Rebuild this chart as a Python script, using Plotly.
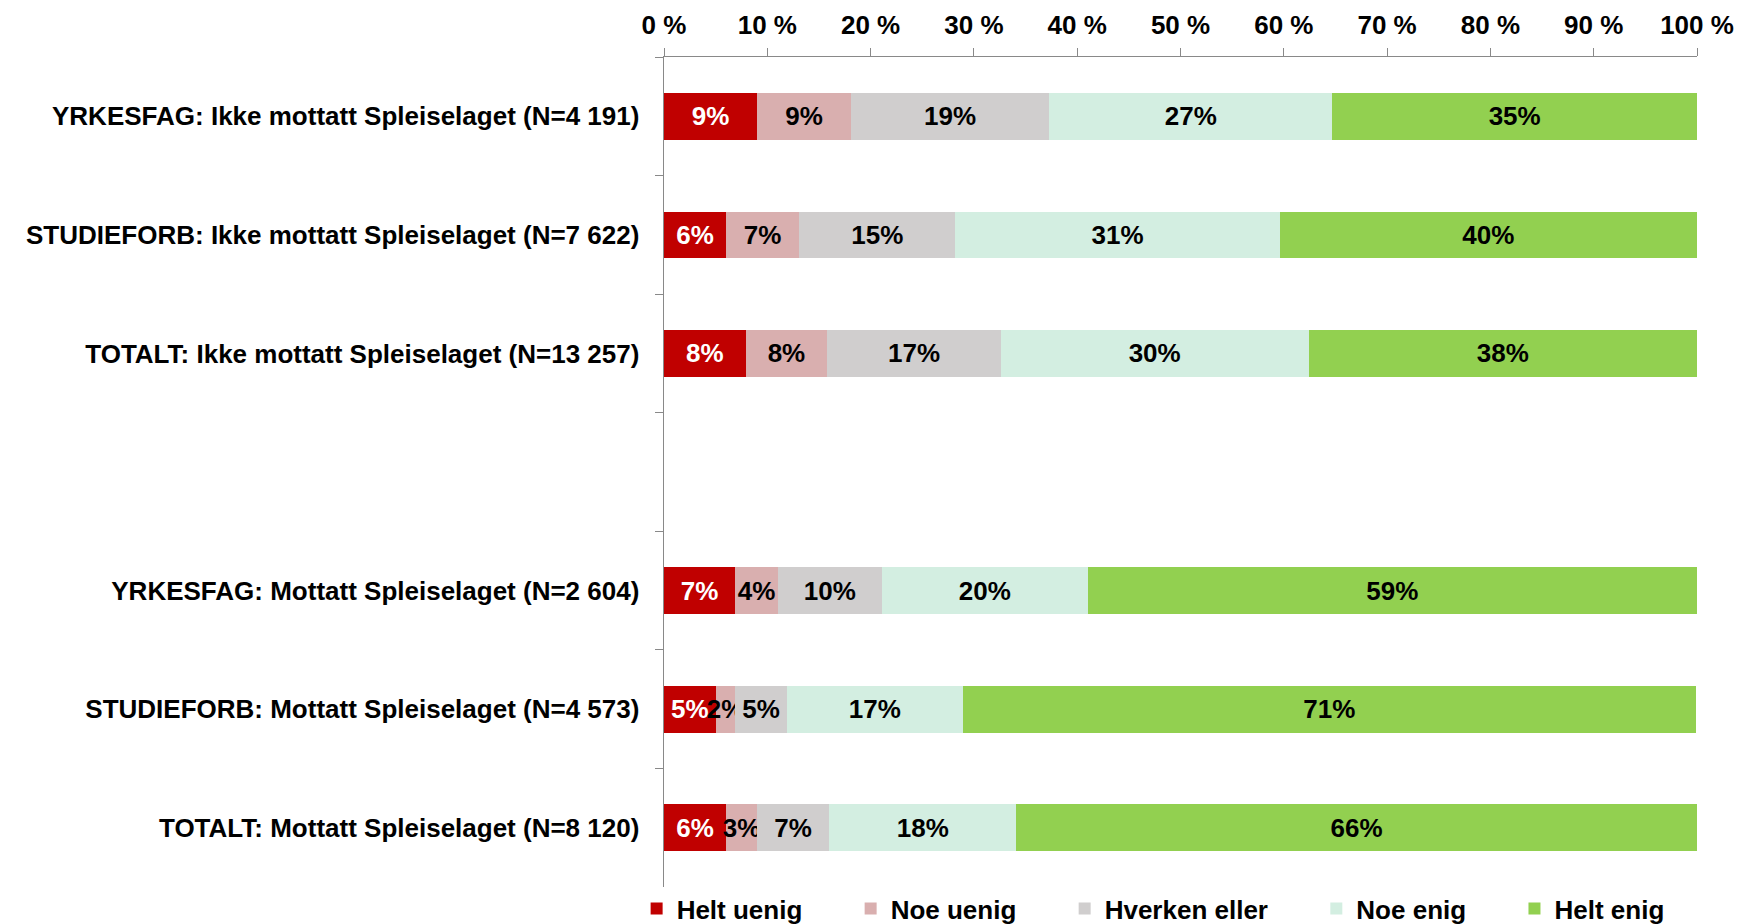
import plotly.graph_objects as go

categories = [
    "YRKESFAG: Ikke mottatt Spleiselaget (N=4 191)",
    "STUDIEFORB: Ikke mottatt Spleiselaget (N=7 622)",
    "TOTALT: Ikke mottatt Spleiselaget (N=13 257)",
    " ",
    "YRKESFAG: Mottatt Spleiselaget (N=2 604)",
    "STUDIEFORB: Mottatt Spleiselaget (N=4 573)",
    "TOTALT: Mottatt Spleiselaget (N=8 120)",
]

series_names = ["Helt uenig", "Noe uenig", "Hverken eller", "Noe enig", "Helt enig"]

helt_uenig = [9.0, 6.0, 7.9, None, 6.9, 5.0, 6.0]
noe_uenig = [9.1, 7.1, 7.9, None, 4.1, 1.9, 3.0]
hverken = [19.2, 15.1, 16.8, None, 10.1, 5.0, 7.0]
noe_enig = [27.4, 31.4, 29.8, None, 19.9, 17.0, 18.1]
helt_enig = [35.3, 40.4, 37.6, None, 59.0, 71.0, 65.9]

series_values = [helt_uenig, noe_uenig, hverken, noe_enig, helt_enig]
colors = ["#C00000", "#D9AFAF", "#D0CECE", "#D3EEE1", "#92D050"]
text_colors = ["white", "black", "black", "black", "black"]

x_ticks = [0, 10, 20, 30, 40, 50, 60, 70, 80, 90, 100]
x_tick_labels = [f"{v} %" for v in x_ticks]

FONT = "Liberation Sans, Arial, sans-serif"
FS = 26

fig = go.Figure()
for i, (name, vals, col, tcol) in enumerate(zip(series_names, series_values, colors, text_colors)):
    pad = "\u00a0" * 6 if i < len(series_names) - 1 else ""
    fig.add_trace(go.Bar(
        y=categories, x=vals, name=name + pad, orientation="h",
        marker=dict(color=col, line=dict(width=0)),
        texttemplate="%{x:.0f}%", textposition="inside",
        insidetextanchor="middle", textangle=0, constraintext="none",
        textfont=dict(family=FONT, size=26, color=tcol, weight="bold"),
        hoverinfo="skip",
    ))

fig.update_layout(
    barmode="stack",
    bargap=0.606,
    width=1739, height=924,
    margin=dict(l=664, r=42, t=57, b=37, autoexpand=False),
    paper_bgcolor="white", plot_bgcolor="white",
    font=dict(family=FONT, size=FS, color="black", weight="bold"),
    showlegend=True,
    legend=dict(orientation="h", traceorder="normal",
                x=-0.0265, xanchor="left", y=-0.026, yanchor="middle",
                font=dict(family=FONT, size=FS, color="black", weight="bold"),
                itemwidth=30, bgcolor="rgba(0,0,0,0)"),
    xaxis=dict(side="top", range=[0, 100], tickvals=x_ticks, ticktext=x_tick_labels,
               automargin=False, ticklabelstandoff=4,
               showgrid=False, zeroline=False, showline=True, linecolor="#898989", linewidth=1,
               ticks="outside", ticklen=8, tickcolor="#898989",
               tickfont=dict(family=FONT, size=FS, color="black", weight="bold")),
    yaxis=dict(categoryorder="array", categoryarray=categories, autorange="reversed",
               automargin=False,
               showgrid=False, showline=True, linecolor="#898989", linewidth=1,
               ticks="outside", ticklen=8, tickcolor="#898989", tickson="boundaries",
               ticksuffix="  ", ticklabelstandoff=4,
               tickfont=dict(family=FONT, size=FS, color="black", weight="bold")),
)

fig.write_html("out.html", config={"displayModeBar": False},
               post_script="document.body.style.margin='0';")
